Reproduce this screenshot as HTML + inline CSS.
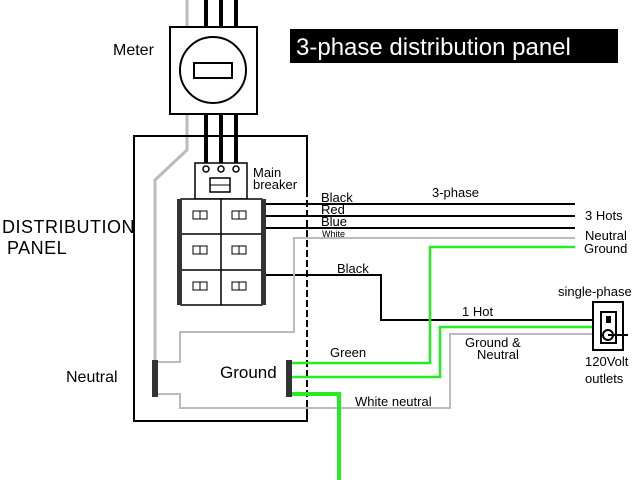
<!DOCTYPE html>
<html><head><meta charset="utf-8"><style>
html,body{margin:0;padding:0;background:#fff;}
svg{display:block;font-family:"Liberation Sans",sans-serif;}
</style></head><body>
<svg width="640" height="480" viewBox="0 0 640 480" xmlns="http://www.w3.org/2000/svg">
<rect width="640" height="480" fill="#fff"/>
<rect x="290" y="29" width="328" height="34" fill="#000"/>
<text x="296" y="55" font-size="24" fill="#fff">3-phase distribution panel</text>
<text x="113" y="55" font-size="16">Meter</text>
<text x="2" y="233" font-size="18" letter-spacing="0.5">DISTRIBUTION</text>
<text x="7" y="254" font-size="18" letter-spacing="0.5">PANEL</text>
<text x="66" y="382" font-size="16">Neutral</text>
<text x="220" y="378" font-size="17">Ground</text>
<text x="253" y="177" font-size="13">Main</text>
<text x="253" y="189" font-size="13">breaker</text>

<polyline points="187,0 187,27" fill="none" stroke="#bbb" stroke-width="3"/>
<polyline points="187,114 187,150 155,180 155,362" fill="none" stroke="#bbb" stroke-width="3"/>
<g stroke="#000" stroke-width="4">
<line x1="206" y1="0" x2="206" y2="27"/><line x1="221" y1="0" x2="221" y2="27"/><line x1="236" y1="0" x2="236" y2="27"/>
<line x1="206" y1="114" x2="206" y2="166"/><line x1="221" y1="114" x2="221" y2="166"/><line x1="236" y1="114" x2="236" y2="166"/>
</g>
<rect x="170" y="27" width="87" height="87" fill="#fff" stroke="#000" stroke-width="2"/>
<circle cx="213" cy="70" r="33" fill="none" stroke="#000" stroke-width="2"/>
<rect x="194" y="63" width="38" height="15" fill="none" stroke="#000" stroke-width="2"/>

<polyline points="307,190 307,136 134,136 134,421 307,421 307,400" fill="none" stroke="#000" stroke-width="2"/>
<line x1="307" y1="190" x2="307" y2="400" stroke="#000" stroke-width="2" stroke-dasharray="7,3"/>

<rect x="195" y="163" width="52" height="36" fill="#fff" stroke="#000" stroke-width="1.5"/>
<g fill="#fff" stroke="#000" stroke-width="1.5">
<circle cx="206" cy="169" r="3"/><circle cx="221" cy="169" r="3"/><circle cx="236" cy="169" r="3"/>
</g>
<rect x="210" y="178" width="20" height="14" fill="none" stroke="#000" stroke-width="1.5"/>
<line x1="210" y1="185" x2="230" y2="185" stroke="#000"/>

<rect x="181" y="199" width="81" height="106" fill="#fff" stroke="#000" stroke-width="1.5"/>
<line x1="221" y1="199" x2="221" y2="305" stroke="#000" stroke-width="1.5"/>
<line x1="181" y1="234" x2="262" y2="234" stroke="#000" stroke-width="1.5"/>
<line x1="181" y1="270" x2="262" y2="270" stroke="#000" stroke-width="1.5"/>
<rect x="177" y="199" width="5" height="106" fill="#333"/>
<rect x="261" y="199" width="5" height="106" fill="#333"/>
<g fill="#fff" stroke="#000" stroke-width="1">
<rect x="193" y="211" width="14" height="8"/><rect x="232" y="211" width="14" height="8"/>
<rect x="193" y="246" width="14" height="8"/><rect x="232" y="246" width="14" height="8"/>
<rect x="193" y="282" width="14" height="8"/><rect x="232" y="282" width="14" height="8"/>
</g>
<g stroke="#000" stroke-width="1"><line x1="200" y1="211" x2="200" y2="219"/><line x1="239" y1="211" x2="239" y2="219"/><line x1="200" y1="246" x2="200" y2="254"/><line x1="239" y1="246" x2="239" y2="254"/><line x1="200" y1="282" x2="200" y2="290"/><line x1="239" y1="282" x2="239" y2="290"/></g>

<g stroke="#000" stroke-width="2" fill="none">
<line x1="266" y1="204" x2="575" y2="204"/>
<line x1="266" y1="216" x2="575" y2="216"/>
<line x1="266" y1="228" x2="575" y2="228"/>
<polyline points="266,275 381,275 381,320 600,320"/>
</g>
<g stroke="#bbb" stroke-width="2" fill="none">
<polyline points="575,238 294,238 294,332 180,332 180,362 158,362"/>
<polyline points="158,394 180,394 180,408 450,408 450,334 600,334"/>
</g>
<g stroke="#22ee22" stroke-width="2.5" fill="none">
<polyline points="575,247 430,247 430,363 290,363"/>
<polyline points="290,377 440,377 440,327 600,327"/>
</g>
<polyline points="290,394 339,394 339,480" stroke="#22ee22" stroke-width="4" fill="none"/>

<rect x="152" y="360" width="6" height="37" fill="#333"/>
<rect x="286" y="360" width="6" height="37" fill="#333"/>

<rect x="593" y="302" width="30" height="48" fill="#fff" stroke="#000" stroke-width="2"/>
<rect x="601" y="312" width="15" height="31" fill="none" stroke="#000" stroke-width="2"/>
<circle cx="608" cy="335" r="5" fill="#fff" stroke="#000" stroke-width="2"/>
<rect x="606" y="316" width="5" height="7" fill="#000"/>
<line x1="608" y1="335" x2="628" y2="335" stroke="#000" stroke-width="2"/>

<g font-size="13">
<text x="321" y="202">Black</text>
<text x="321" y="214">Red</text>
<text x="321" y="226">Blue</text>
<text x="322" y="237" font-size="9">White</text>
<text x="432" y="197">3-phase</text>
<text x="585" y="220">3 Hots</text>
<text x="585" y="240">Neutral</text>
<text x="584" y="253">Ground</text>
<text x="337" y="273">Black</text>
<text x="462" y="316">1 Hot</text>
<text x="465" y="347">Ground &amp;</text>
<text x="477" y="359">Neutral</text>
<text x="330" y="357">Green</text>
<text x="355" y="406">White neutral</text>
<text x="558" y="296">single-phase</text>
<text x="585" y="366">120Volt</text>
<text x="585" y="383">outlets</text>
</g>
</svg>
</body></html>
